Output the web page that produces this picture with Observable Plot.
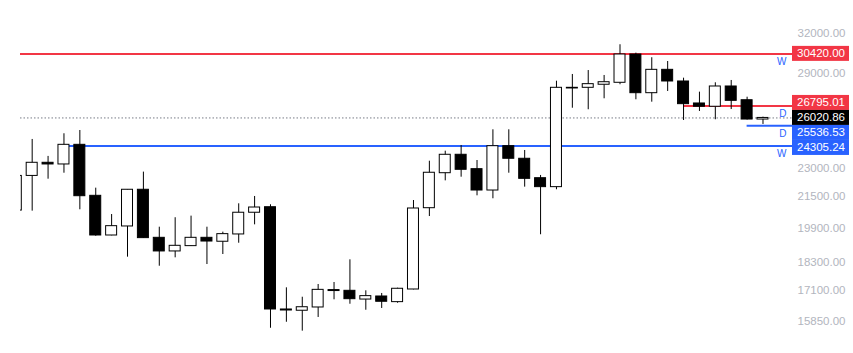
<!DOCTYPE html>
<html>
<head>
<meta charset="utf-8">
<script src="https://cdn.jsdelivr.net/npm/d3@7"></script>
<script src="https://cdn.jsdelivr.net/npm/@observablehq/plot@0.6"></script>
<style>
html, body { margin: 0; padding: 0; background: #fff; }
#chart svg { display: block; }
</style>
</head>
<body>
<div id="chart"></div>
<script>
// Weekly candles (oldest first)
const opens  = [20760, 22590, 23325, 23230, 24370, 21520, 19535, 19970, 21840, 19425, 18790, 19035, 19425, 19240, 19585, 20650,
                20930, 16310, 16260, 16390, 17100, 17070, 16710, 16835, 16605, 17125, 20880, 22740, 23785, 22965, 21800, 24290,
                23555, 22465, 21980, 28005, 28005, 28215, 28350, 30375, 27640, 29260, 28440, 26955, 26740, 28095, 27170, 25920];
const highs  = [23400, 24690, 23690, 25035, 25235, 21925, 20560, 21850, 22800, 19935, 20400, 20480, 19935, 19695, 21105, 21485,
                21055, 17195, 16805, 17335, 17420, 18410, 17070, 16960, 17180, 21275, 23415, 23995, 24330, 23455, 25280, 25280,
                24035, 22615, 28460, 28930, 29210, 28860, 31105, 30475, 30135, 29860, 28670, 27710, 28350, 28510, 27370, 26070];
const lows   = [20500, 20730, 22410, 22740, 20800, 19500, 19520, 18530, 19400, 18125, 18500, 19020, 18200, 18650, 19170, 20050,
                15580, 15810, 15470, 15995, 16700, 16520, 16280, 16350, 16560, 17110, 20460, 22320, 22520, 21520, 21365, 22740,
                21980, 19570, 21840, 26645, 26545, 27265, 28215, 27200, 27040, 27755, 25860, 26435, 25905, 26560, 25890, 25610];
const closes = [22590, 23325, 23230, 24370, 21500, 19535, 19985, 21840, 19410, 18790, 19050, 19425, 19250, 19600, 20650, 20915,
                16310, 16270, 16400, 17110, 17060, 16725, 16850, 16620, 17155, 20865, 22765, 23785, 22930, 21800, 24290, 23555,
                22430, 21980, 28005, 27960, 28255, 28390, 30375, 27640, 29260, 28440, 26910, 26740, 28095, 27130, 25920, 26020.86];

// Right-axis tick labels
const yTicks = [32000, 29000, 23000, 21500, 19900, 18300, 17100, 15850];

// Horizontal levels
const levelPrices = [30420.00, 26795.01, 25536.53, 24305.24];
const levelColors = ["#f23645", "#f23645", "#2962ff", "#2962ff"];
const levelFrames = ["W", "D", "D", "W"];
const levelStarts = [0, 42, 46, 3];   // candle index where each level begins

const lastPrice = 26020.86;

// ---- build tables ----
const candles = opens.map((o, i) => ({i, o, h: highs[i], l: lows[i], c: closes[i], up: closes[i] >= o}));
const levels = levelPrices.map((p, k) => ({p, color: levelColors[k], tf: levelFrames[k], start: levelStarts[k]}));

// ---- layout ----
const W = 853, H = 353, mL = 20, mR = 61;
const step = 15.887, firstX = 15.8;          // px per candle, px of candle 0
const xMin = (mL - firstX) / step;
const xMax = (W - mR - firstX) / step;
const hw = 0.346;                             // half body width (in candles)
const FONT = "'Liberation Sans', Arial, sans-serif";

const up = candles.filter(d => d.up);
const down = candles.filter(d => !d.up);

const plot = Plot.plot({
  width: W,
  height: H,
  marginLeft: mL,
  marginRight: mR,
  marginTop: 0,
  marginBottom: 0,
  style: {fontFamily: FONT, fontSize: "11.5px", background: "#fff", overflow: "visible"},
  x: {type: "linear", domain: [xMin, xMax], axis: null},
  y: {type: "log", domain: [14650, 34650]},
  marks: [
    Plot.ruleY([lastPrice], {y: d => d, stroke: "#787b86", strokeWidth: 1, strokeDasharray: "1.5,2", clip: true}),
    Plot.ruleY(levels, {y: "p", x1: "start", x2: () => xMax + 1, stroke: "color", strokeWidth: 2, clip: true}),
    Plot.ruleX(candles, {x: "i", y1: "l", y2: "h", stroke: "#000", strokeWidth: 1, clip: true}),
    Plot.rect(up, {x1: d => d.i - hw, x2: d => d.i + hw, y1: "o", y2: "c", fill: "#fff", stroke: "#000", strokeWidth: 1, clip: true}),
    Plot.rect(down, {x1: d => d.i - hw, x2: d => d.i + hw, y1: "o", y2: "c", fill: "#000", stroke: "#000", strokeWidth: 1, clip: true}),
    Plot.text(levels, {y: "p", text: "tf", frameAnchor: "right", textAnchor: "end", dx: -6, dy: 8, fill: "#2962ff", fontSize: 10}),
    Plot.axisY(yTicks, {anchor: "right", tickSize: 0, tickPadding: 53, textAnchor: "end", color: "#b2b5be",
                        tickFormat: d => d.toFixed(2), label: null})
  ]
});

// ---- price tags on the right scale ----
const ys = plot.scale("y");
const tags = levels.map(l => ({p: l.p, bg: l.color, fixed: false}))
  .concat([{p: lastPrice, bg: "#000", fixed: true}]);
tags.forEach(t => t.y = ys.apply(t.p));
tags.sort((a, b) => a.y - b.y);
const boxH = 15;
const fi = tags.findIndex(t => t.fixed);
for (let k = fi - 1; k >= 0; k--) if (tags[k + 1].y - tags[k].y < boxH) tags[k].y = tags[k + 1].y - boxH;
for (let k = fi + 1; k < tags.length; k++) if (tags[k].y - tags[k - 1].y < boxH) tags[k].y = tags[k - 1].y + boxH;

const svg = d3.select(plot);
const g = svg.append("g");
const x0 = W - mR;
tags.forEach(t => {
  g.append("rect").attr("x", x0).attr("y", t.y - boxH / 2).attr("width", 57).attr("height", boxH).attr("fill", t.bg);
  g.append("text").attr("x", x0 + 53).attr("y", t.y).attr("dy", "0.35em").attr("text-anchor", "end")
    .attr("fill", "#fff").attr("font-size", "11.5px").attr("font-family", FONT).text(t.p.toFixed(2));
});

document.getElementById("chart").appendChild(plot);
</script>
</body>
</html>
